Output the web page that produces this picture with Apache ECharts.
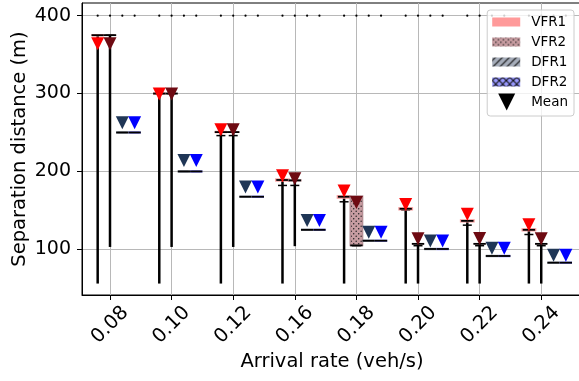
<!DOCTYPE html>
<html><head><meta charset="utf-8">
<script src="https://cdn.jsdelivr.net/npm/echarts@6/dist/echarts.min.js"></script>
<style>html,body{margin:0;padding:0;background:#fff}#c{width:579px;height:381px}</style>
</head><body><div id="c"></div>
<script>
// ---------- data ----------
const categories = ['0.08', '0.10', '0.12', '0.16', '0.18', '0.20', '0.22', '0.24'];
const yTicks = [100, 200, 300, 400];

// VFR1
const vfr1Low    = [56, 56, 56, 56, 56, 56, 56, 56];
const vfr1Cap    = [375, 300, 246, 182, 161, 150.5, 131, 119];
const vfr1Q1     = [375, 300, 250.5, 188.5, 166.5, 151.5, 136, 124.5];
const vfr1Q3     = [375, 300, 250.5, 189.5, 168, 152.5, 137, 125.5];
const vfr1Median = [375, 300, 250.5, 189, 167.5, 152, 136.5, 125];
const vfr1Mean   = [364, 299.5, 253.5, 194.5, 175, 157.6, 145, 131.6];
const vfr1Flier  = [400, 400, 400, 400, 400, 400, 400, 400];

// VFR2
const vfr2Low    = [103, 103, 103, 104, 104.6, 56, 56, 56];
const vfr2Cap    = [375, 300, 246, 182, 104.6, 104.6, 104.6, 104.6];
const vfr2Q1     = [375, 300, 250.5, 188, 105, 107, 107, 107];
const vfr2Q3     = [375, 300, 250.5, 189, 168.5, 107, 107, 107];
const vfr2Median = [375, 300, 250.5, 188.5, 105, 107, 107, 107];
const vfr2Mean   = [364, 299.5, 253.5, 190.6, 160, 113.6, 114, 113.6];
const vfr2Flier  = [400, 400, 400, 400, 400, 400, 400, 400];

// DFR1
const dfr1Median = [250, 200, 167.5, 125, 111, 100.4, 91.4, 82.8];
const dfr1Mean   = [262.5, 214, 180, 137, 122, 110.6, 101.3, 92.3];
const dfr1Flier  = [400, 400, 400, 400, 400, 400, 400, 400];

// DFR2
const dfr2Median = [250, 200, 167.5, 125, 111, 100.4, 91.4, 82.8];
const dfr2Mean   = [262.5, 214, 180, 137, 122, 110.6, 101.3, 92.3];
const dfr2Flier  = [400, 400, 400, 400, 400, 400, 400, 400];

// ---------- styling ----------
const FONT = 'DejaVu Sans';
const OFF = { VFR1: -0.2, VFR2: 0, DFR1: 0.2, DFR2: 0.4 };
const MEANCOL = { VFR1: '#ff0000', VFR2: '#6e0a12', DFR1: '#1f3656', DFR2: '#0000ff' };

function makePattern(bg, kind) {
  const s = kind === 'dots' ? 5 : 7;
  const c = document.createElement('canvas');
  c.width = s; c.height = s;
  const g = c.getContext('2d');
  g.fillStyle = bg; g.fillRect(0, 0, s, s);
  g.strokeStyle = '#111'; g.fillStyle = '#222'; g.lineWidth = 1.1;
  if (kind === 'dots') {
    g.beginPath(); g.arc(1.2, 1.2, 0.75, 0, Math.PI * 2); g.fill();
    g.beginPath(); g.arc(3.7, 3.7, 0.75, 0, Math.PI * 2); g.fill();
  } else if (kind === 'diag' || kind === 'cross') {
    g.beginPath();
    g.moveTo(-1, s + 1); g.lineTo(s + 1, -1);
    g.moveTo(-1, 1); g.lineTo(1, -1);
    g.moveTo(s - 1, s + 1); g.lineTo(s + 1, s - 1);
    if (kind === 'cross') {
      g.moveTo(-1, -1); g.lineTo(s + 1, s + 1);
      g.moveTo(s - 1, -1); g.lineTo(s + 1, 1);
      g.moveTo(-1, s - 1); g.lineTo(1, s + 1);
    }
    g.stroke();
  }
  return { image: c, repeat: 'repeat' };
}

const FILL = {
  VFR1: '#ff9a9a',
  VFR2: makePattern('#c79ca1', 'dots'),
  DFR1: makePattern('#a6adba', 'diag'),
  DFR2: makePattern('#9999ff', 'cross')
};
const EDGE = { VFR1: '#f59a9a', VFR2: '#b48e94', DFR1: '#9aa2b0', DFR2: '#8c8cf5' };
const EDGEW = { VFR1: 2.5, VFR2: 1.5, DFR1: 2.5, DFR2: 2.5 };

function boxSeries(name, low, cap, q1, q3, med, flier) {
  const offset = OFF[name];
  return {
    type: 'custom', name, z: 2, silent: true,
    itemStyle: { color: FILL[name] },
    encode: { x: 0, y: [1, 2, 3, 4, 5, 6] },
    data: categories.map((c, i) => [i + offset, low[i], cap[i], q1[i], q3[i], med[i], flier[i]]),
    renderItem: (params, api) => {
      const x = api.value(0);
      const P = k => api.coord([x, api.value(k)]);
      const pL = P(1), pC = P(2), pQ1 = P(3), pQ3 = P(4), pM = P(5), pF = P(6);
      const hw = api.size([0.1, 0])[0];
      const cx = pL[0];
      return {
        type: 'group', children: [
          { type: 'line', shape: { x1: cx, y1: pL[1], x2: cx, y2: pQ1[1] }, style: { stroke: '#000', lineWidth: 2.5 } },
          { type: 'line', shape: { x1: cx - 4.5, y1: pC[1], x2: cx + 4.5, y2: pC[1] }, style: { stroke: '#000', lineWidth: 1.5 } },
          { type: 'rect', shape: { x: cx - hw, y: pQ3[1], width: 2 * hw, height: Math.max(pQ1[1] - pQ3[1], 0) },
            style: { fill: FILL[name], stroke: EDGE[name], lineWidth: EDGEW[name] } },
          { type: 'line', shape: { x1: cx - hw, y1: pM[1], x2: cx + hw, y2: pM[1] }, style: { stroke: '#000', lineWidth: 1.8 } },
          { type: 'circle', shape: { cx: cx, cy: pF[1], r: 1.1 }, style: { fill: '#000' } }
        ]
      };
    }
  };
}

const meanData = [];
[['VFR1', vfr1Mean], ['VFR2', vfr2Mean], ['DFR1', dfr1Mean], ['DFR2', dfr2Mean]].forEach(([n, arr]) => {
  arr.forEach((m, i) => meanData.push({ value: [i + OFF[n], m], itemStyle: { color: MEANCOL[n] } }));
});

const tickIdx = categories.map((_, i) => i);
const rectIcon = 'path://M0,0M0,4L28,4L28,13L0,13ZM34,17';
const triIcon = 'path://M0,0M6,0L23,0L14.5,17ZM34,17';

const chart = echarts.init(document.getElementById('c'), null, { renderer: 'canvas' });
chart.setOption({
  animation: false,
  backgroundColor: '#fff',
  grid: { left: 82, top: 3, right: -3, bottom: 86, show: true, borderColor: '#000', borderWidth: 1, outerBoundsMode: 'none', containLabel: false },
  xAxis: {
    type: 'value', min: -0.4545, max: 7.662,
    axisLine: { show: true, onZero: false, lineStyle: { color: '#000', width: 1 } },
    axisTick: { show: true, customValues: tickIdx, length: 5, lineStyle: { color: '#000', width: 1 } },
    axisLabel: { customValues: tickIdx, formatter: v => categories[Math.round(v)], rotate: 45, align: 'center', verticalAlign: 'middle',
      margin: 30, fontSize: 19.5, color: '#000', fontFamily: FONT },
    splitLine: { show: true, lineStyle: { color: '#b8b8b8', width: 1 } },
    name: 'Arrival rate (veh/s)', nameLocation: 'middle', nameGap: 57, nameMoveOverlap: false,
    nameTextStyle: { fontSize: 19.5, color: '#000', fontFamily: FONT }
  },
  yAxis: {
    type: 'value', min: 41.3, max: 416.3,
    axisLine: { show: true, onZero: false, lineStyle: { color: '#000', width: 1 } },
    axisTick: { show: true, customValues: yTicks, length: 5, lineStyle: { color: '#000', width: 1 } },
    axisLabel: { customValues: yTicks, margin: 11, fontSize: 19, color: '#000', fontFamily: FONT },
    splitLine: { show: true, lineStyle: { color: '#b8b8b8', width: 1 } },
    name: 'Separation distance (m)', nameLocation: 'middle', nameGap: 52, nameMoveOverlap: false,
    nameTextStyle: { fontSize: 19.5, color: '#000', fontFamily: FONT }
  },
  legend: {
    orient: 'vertical', right: 5, top: 10, itemWidth: 34, itemHeight: 17, itemGap: 3,
    padding: [3.5, 6, 5.5, 5], selectedMode: false,
    backgroundColor: 'rgba(255,255,255,0.8)', borderColor: '#cccccc', borderWidth: 1, borderRadius: 3,
    textStyle: { fontFamily: FONT, fontSize: 13.5, color: '#000' },
    data: [
      { name: 'VFR1', icon: rectIcon, itemStyle: { color: FILL.VFR1 } },
      { name: 'VFR2', icon: rectIcon, itemStyle: { color: FILL.VFR2 } },
      { name: 'DFR1', icon: rectIcon, itemStyle: { color: FILL.DFR1 } },
      { name: 'DFR2', icon: rectIcon, itemStyle: { color: FILL.DFR2 } },
      { name: 'Mean', icon: triIcon, itemStyle: { color: '#000' } }
    ]
  },
  series: [
    boxSeries('VFR1', vfr1Low, vfr1Cap, vfr1Q1, vfr1Q3, vfr1Median, vfr1Flier),
    boxSeries('VFR2', vfr2Low, vfr2Cap, vfr2Q1, vfr2Q3, vfr2Median, vfr2Flier),
    boxSeries('DFR1', dfr1Median, dfr1Median, dfr1Median, dfr1Median, dfr1Median, dfr1Flier),
    boxSeries('DFR2', dfr2Median, dfr2Median, dfr2Median, dfr2Median, dfr2Median, dfr2Flier),
    { type: 'scatter', name: 'Mean', z: 5, silent: true, symbol: 'path://M0,0L10,0L5,10Z', symbolSize: 13,
      itemStyle: { color: '#000', opacity: 1 }, data: meanData }
  ]
});
</script></body></html>
